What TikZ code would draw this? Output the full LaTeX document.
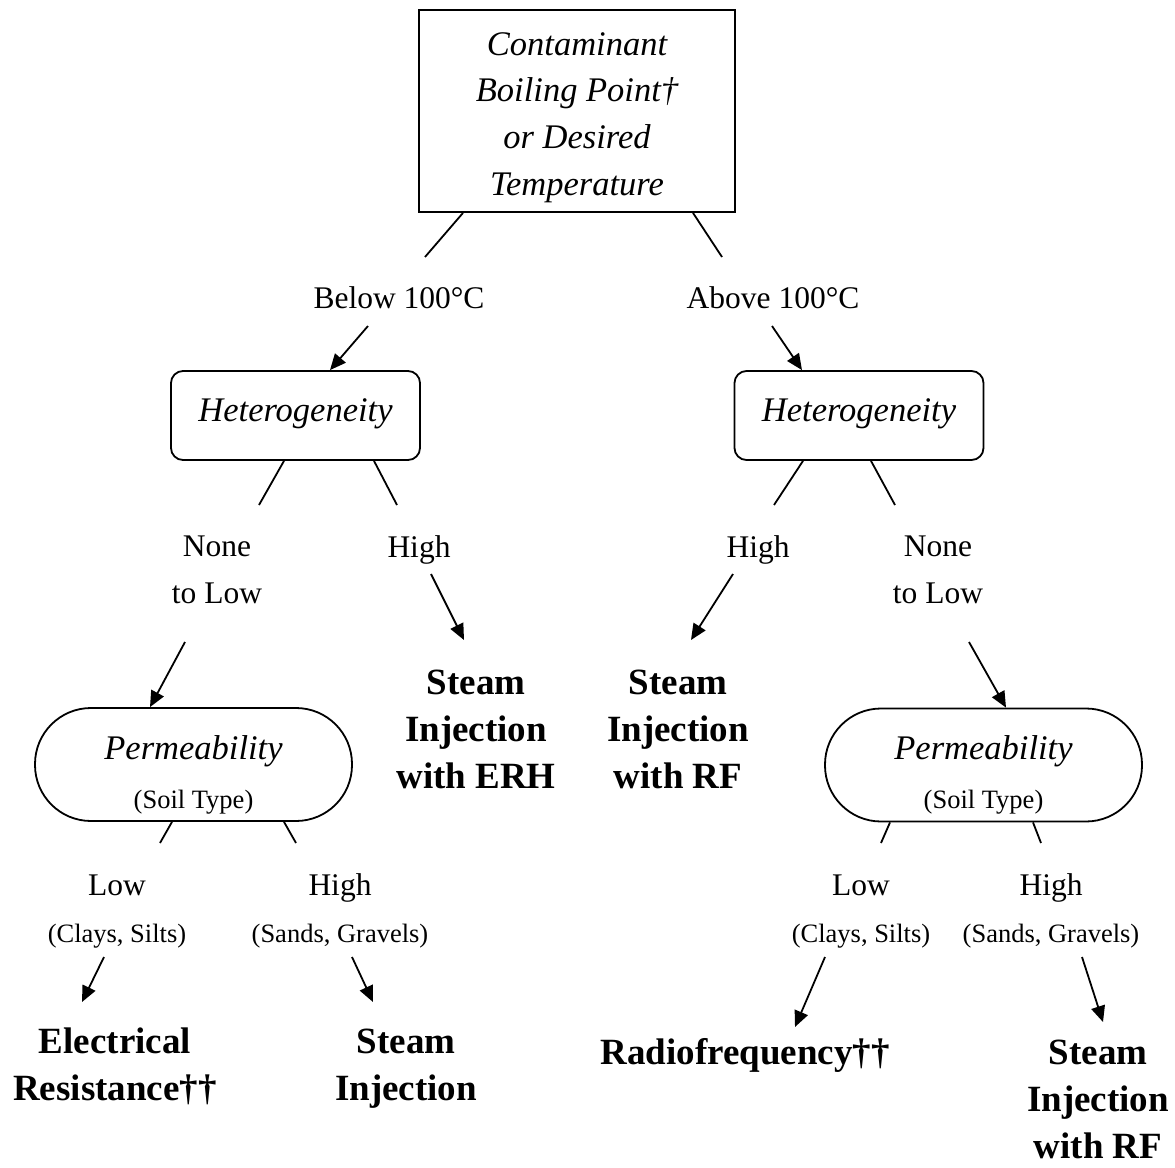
\documentclass[tikz,border=0pt]{standalone}
\usepackage{fontspec}
\setmainfont{Liberation Serif}
\usetikzlibrary{arrows.meta}

\tikzset{
  lbl/.style={font=\fontsize{31.5}{47}\selectfont, align=center, anchor=base, inner sep=0pt},
  tech/.style={font=\fontsize{37}{47}\selectfont\bfseries, align=center, anchor=base, inner sep=0pt},
  qbox/.style={draw, inner sep=0pt, align=center, font=\fontsize{34.5}{46.7}\selectfont\itshape},
  hbox/.style={qbox, rounded corners=12pt, minimum width=249pt, minimum height=89pt,
    text height=23pt, text depth=12pt},
  pbox/.style={qbox, rounded corners=56pt, minimum width=317pt, minimum height=113pt,
    font=\fontsize{34.5}{49}\selectfont\itshape},
}
\newcommand{\soil}[1]{{\upshape\fontsize{26.5}{49}\selectfont #1}}

\begin{document}
\begin{tikzpicture}[x=1pt, y=-1pt, line width=1.8pt, >={Triangle[length=16pt,width=14pt]}]
  \useasboundingbox (0,0) rectangle (1175,1167);

  % question boxes
  \node[qbox, minimum width=316pt, minimum height=202pt] (top) at (577,111)
    {\rule{0pt}{35.5pt}Contaminant\\Boiling Point†\\or Desired\\Temperature};
  \node[hbox] (hetL) at (295.5,415.5) {Heterogeneity};
  \node[hbox] (hetR) at (859,415.5) {Heterogeneity};
  \node[pbox] (permL) at (193.5,764.5) {\rule{0pt}{44pt}Permeability\\\soil{(Soil Type)}};
  \node[pbox] (permR) at (983.5,765) {\rule{0pt}{44pt}Permeability\\\soil{(Soil Type)}};

  % branch labels (base = last line)
  \node[lbl] (below) at (399,308) {Below 100°C};
  \node[lbl] (above) at (773,308) {Above 100°C};
  \node[lbl] (noneL) at (217,603) {None\\to Low};
  \node[lbl] (highL) at (419,557) {High};
  \node[lbl] (highR) at (758,557) {High};
  \node[lbl] (noneR) at (938,603) {None\\to Low};
  \node[lbl] (lowL) at (117,942) {Low\\{\fontsize{26.5}{47}\selectfont (Clays, Silts)}};
  \node[lbl] (sandL) at (340,942) {High\\{\fontsize{26.5}{47}\selectfont (Sands, Gravels)}};
  \node[lbl] (lowR) at (861,942) {Low\\{\fontsize{26.5}{47}\selectfont (Clays, Silts)}};
  \node[lbl] (sandR) at (1051,942) {High\\{\fontsize{26.5}{47}\selectfont (Sands, Gravels)}};

  % technologies
  \node[tech] (sierh) at (476,788) {Steam\\Injection\\with ERH};
  \node[tech] (sirf) at (678,788) {Steam\\Injection\\with RF};
  \node[tech] (erh) at (115,1100) {Electrical\\Resistance††};
  \node[tech] (si) at (406,1100) {Steam\\Injection};
  \node[tech] (rf) at (745,1064) {Radiofrequency††};
  \node[tech] (sirf2) at (1098,1158) {Steam\\Injection\\with RF};

  % free ends of the connectors
  \coordinate (b1) at (425,257);  \coordinate (b2) at (368,326);
  \coordinate (a1) at (722,257);  \coordinate (a2) at (772,326);
  \coordinate (nl1) at (259,505); \coordinate (nl2) at (185,642);
  \coordinate (hl1) at (397,505); \coordinate (hl2) at (431,574); \coordinate (hl3) at (464,640);
  \coordinate (hr1) at (774,505); \coordinate (hr2) at (733,574); \coordinate (hr3) at (691,640);
  \coordinate (nr1) at (895,505); \coordinate (nr2) at (969,642);
  \coordinate (ll1) at (160,843); \coordinate (ll2) at (104,957); \coordinate (ll3) at (82,1002);
  \coordinate (sl1) at (296,843); \coordinate (sl2) at (352,957); \coordinate (sl3) at (373,1002);
  \coordinate (lr1) at (881,843); \coordinate (lr2) at (825,957); \coordinate (lr3) at (795,1027);
  \coordinate (sr1) at (1041,843); \coordinate (sr2) at (1082,957); \coordinate (sr3) at (1103,1022);

  % connectors
  \draw ([xshift=-114pt]top.south) -- (b1);
  \draw ([xshift=116pt]top.south) -- (a1);
  \draw[->] (b2) -- ([xshift=34.5pt]hetL.north);
  \draw[->] (a2) -- ([xshift=-57pt]hetR.north);
  \draw ([xshift=-11.5pt]hetL.south) -- (nl1);
  \draw ([xshift=78.5pt]hetL.south) -- (hl1);
  \draw ([xshift=-56pt]hetR.south) -- (hr1);
  \draw ([xshift=12pt]hetR.south) -- (nr1);
  \draw[->] (nl2) -- ([xshift=-43.5pt]permL.north);
  \draw[->] (hl2) -- (hl3);
  \draw[->] (hr2) -- (hr3);
  \draw[->] (nr2) -- ([xshift=22.5pt]permR.north);
  \draw ([xshift=-21.5pt]permL.south) -- (ll1);
  \draw ([xshift=90.5pt]permL.south) -- (sl1);
  \draw ([xshift=-93.5pt]permR.south) -- (lr1);
  \draw ([xshift=49.5pt]permR.south) -- (sr1);
  \draw[->] (ll2) -- (ll3);
  \draw[->] (sl2) -- (sl3);
  \draw[->] (lr2) -- (lr3);
  \draw[->] (sr2) -- (sr3);
\end{tikzpicture}
\end{document}
